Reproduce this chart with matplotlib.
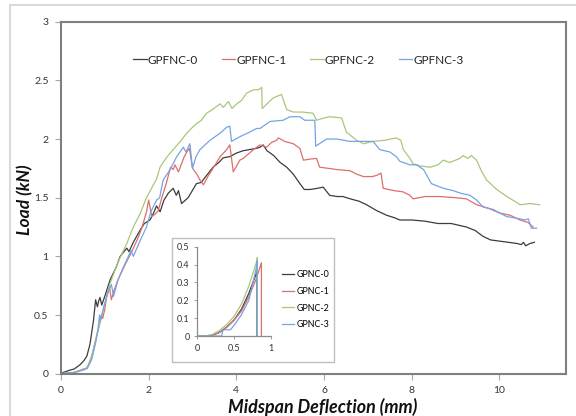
import matplotlib
matplotlib.use("Agg")
import matplotlib.pyplot as plt
from matplotlib.patches import Rectangle

plt.rcParams['font.family'] = ['Lato', 'DejaVu Sans']

# ---------------- data ----------------
labels_main = ["GPFNC-0", "GPFNC-1", "GPFNC-2", "GPFNC-3"]
labels_inset = ["GPNC-0", "GPNC-1", "GPNC-2", "GPNC-3"]
colors = ["#3c3c3c", "#dc6f6b", "#a9c77a", "#74a4e6"]

x0 = [0, 0.05, 0.2, 0.3, 0.43, 0.52, 0.59, 0.66, 0.74, 0.79, 0.83, 0.86, 0.89, 0.93, 1.0, 1.12, 1.25, 1.35, 1.5, 1.55,
      1.65, 1.8, 1.9, 2.03, 2.1, 2.18, 2.26, 2.35, 2.45, 2.56, 2.63, 2.68, 2.75, 2.9, 3.09, 3.2, 3.3, 3.47, 3.6, 3.7,
      3.85, 4.0, 4.15, 4.3, 4.45, 4.54, 4.61, 4.7, 4.85, 5.0, 5.15, 5.3, 5.45, 5.55, 5.68, 5.85, 5.98, 6.13, 6.3, 6.43,
      6.6, 6.8, 6.97, 7.2, 7.43, 7.6, 7.73, 8.0, 8.3, 8.6, 8.9, 9.25, 9.45, 9.63, 9.8, 10.0, 10.2, 10.4, 10.5, 10.55,
      10.6, 10.7, 10.8]
y0 = [0, 0.01, 0.03, 0.04, 0.075, 0.11, 0.15, 0.25, 0.45, 0.63, 0.57, 0.62, 0.65, 0.585, 0.66, 0.80, 0.9, 1.0, 1.07, 1.04,
      1.12, 1.22, 1.28, 1.31, 1.36, 1.43, 1.38, 1.48, 1.54, 1.58, 1.52, 1.56, 1.45, 1.5, 1.62, 1.63, 1.68, 1.76, 1.8, 1.84,
      1.85, 1.88, 1.9, 1.91, 1.92, 1.93, 1.95, 1.9, 1.86, 1.8, 1.76, 1.7, 1.62, 1.57, 1.57, 1.58, 1.59, 1.52, 1.51, 1.51,
      1.49, 1.47, 1.44, 1.39, 1.35, 1.33, 1.31, 1.31, 1.30, 1.28, 1.28, 1.25, 1.22, 1.17, 1.14, 1.13, 1.12, 1.11, 1.10, 1.12,
      1.09, 1.11, 1.12]

x1 = [0, 0.3, 0.51, 0.58, 0.62, 0.7, 0.8, 0.88, 0.92, 0.95, 1.0, 1.05, 1.1, 1.15, 1.2, 1.3, 1.45, 1.6, 1.75, 1.85,
      1.95, 2.0, 2.07, 2.15, 2.22, 2.3, 2.4, 2.5, 2.56, 2.6, 2.68, 2.8, 2.87, 2.93, 3.0, 3.1, 3.17, 3.25, 3.35, 3.45,
      3.63, 3.78, 3.85, 3.93, 4.08, 4.16, 4.39, 4.54, 4.69, 4.8, 4.92, 4.96, 5.1, 5.3, 5.45, 5.53, 5.7, 5.83, 5.9, 6.1,
      6.29, 6.59, 6.75, 6.9, 7.1, 7.2, 7.3, 7.35, 7.6, 7.8, 7.96, 8.03, 8.3, 8.64, 9.0, 9.25, 9.48, 9.75, 10.0, 10.25,
      10.47, 10.65, 10.77]
y1 = [0, 0.01, 0.04, 0.045, 0.07, 0.15, 0.3, 0.42, 0.5, 0.47, 0.55, 0.68, 0.75, 0.63, 0.7, 0.8, 0.92, 1.03, 1.15, 1.25,
      1.38, 1.48, 1.34, 1.36, 1.39, 1.5, 1.62, 1.76, 1.74, 1.78, 1.72, 1.84, 1.89, 1.92, 1.75, 1.7, 1.65, 1.61, 1.68, 1.74,
      1.85, 1.91, 1.95, 1.72, 1.82, 1.835, 1.91, 1.95, 1.93, 1.97, 1.99, 2.01, 1.98, 1.96, 1.92, 1.82, 1.83, 1.835, 1.76, 1.75,
      1.74, 1.73, 1.7, 1.68, 1.68, 1.69, 1.71, 1.58, 1.56, 1.55, 1.52, 1.49, 1.51, 1.51, 1.5, 1.49, 1.44, 1.41, 1.37, 1.35,
      1.31, 1.29, 1.25]

x2 = [0, 0.2, 0.4, 0.55, 0.62, 0.7, 0.81, 0.9, 1.0, 1.12, 1.3, 1.5, 1.65, 1.8, 1.95, 2.18, 2.26, 2.4, 2.56, 2.7,
      2.87, 3.0, 3.09, 3.2, 3.32, 3.45, 3.63, 3.7, 3.82, 3.9, 4.01, 4.12, 4.23, 4.39, 4.5, 4.58, 4.59, 4.7, 4.84, 5.03,
      5.15, 5.3, 5.5, 5.75, 5.83, 6.0, 6.13, 6.4, 6.51, 6.74, 6.9, 7.12, 7.4, 7.65, 7.75, 7.81, 7.96, 8.03, 8.2, 8.42,
      8.6, 8.72, 8.87, 9.1, 9.17, 9.28, 9.36, 9.48, 9.6, 9.71, 9.94, 10.17, 10.35, 10.47, 10.7, 10.92]
y2 = [0, 0.005, 0.02, 0.04, 0.07, 0.15, 0.32, 0.45, 0.6, 0.77, 0.95, 1.11, 1.25, 1.36, 1.5, 1.66, 1.76, 1.84, 1.91, 1.97,
      2.05, 2.1, 2.13, 2.16, 2.22, 2.25, 2.3, 2.27, 2.32, 2.26, 2.3, 2.33, 2.39, 2.42, 2.42, 2.44, 2.26, 2.3, 2.35, 2.38,
      2.25, 2.23, 2.23, 2.22, 2.16, 2.18, 2.19, 2.18, 2.06, 1.99, 1.96, 1.98, 1.99, 2.01, 1.99, 1.91, 1.835, 1.79, 1.77, 1.76,
      1.78, 1.82, 1.8, 1.835, 1.86, 1.835, 1.86, 1.82, 1.72, 1.65, 1.57, 1.51, 1.47, 1.44, 1.45, 1.44]

x3 = [0, 0.3, 0.5, 0.6, 0.7, 0.8, 0.85, 0.88, 0.9, 0.95, 1.0, 1.1, 1.15, 1.2, 1.3, 1.45, 1.6, 1.65, 1.8, 1.95,
      2.05, 2.18, 2.25, 2.33, 2.49, 2.64, 2.79, 2.85, 2.94, 3.0, 3.08, 3.17, 3.4, 3.63, 3.78, 3.85, 3.89, 4.08, 4.31, 4.46,
      4.54, 4.77, 5.07, 5.22, 5.45, 5.56, 5.79, 5.81, 6.06, 6.29, 6.44, 6.59, 6.9, 7.12, 7.27, 7.5, 7.65, 7.73, 7.96, 8.11,
      8.27, 8.45, 8.72, 8.95, 9.1, 9.33, 9.48, 9.63, 9.86, 10.16, 10.47, 10.58, 10.66, 10.73, 10.85]
y3 = [0, 0.01, 0.03, 0.045, 0.12, 0.28, 0.4, 0.5, 0.45, 0.53, 0.6, 0.72, 0.76, 0.66, 0.8, 0.93, 1.05, 1.0, 1.13, 1.25,
      1.38, 1.48, 1.5, 1.65, 1.74, 1.85, 1.93, 1.89, 1.96, 1.75, 1.85, 1.91, 1.99, 2.05, 2.1, 2.11, 1.98, 2.02, 2.06, 2.09,
      2.09, 2.15, 2.16, 2.19, 2.19, 2.16, 2.16, 1.94, 2.0, 2.0, 1.99, 1.98, 1.98, 1.98, 1.91, 1.89, 1.85, 1.81, 1.78, 1.78,
      1.74, 1.62, 1.58, 1.56, 1.54, 1.52, 1.48, 1.42, 1.4, 1.34, 1.32, 1.31, 1.32, 1.24, 1.24]

# inset (GPNC)
ix0 = [0, 0.1, 0.2, 0.3, 0.4, 0.5, 0.6, 0.7, 0.81, 0.81]
iy0 = [0, 0, 0.003, 0.02, 0.05, 0.09, 0.15, 0.24, 0.36, 0]
ix1 = [0, 0.1, 0.2, 0.3, 0.4, 0.5, 0.6, 0.7, 0.8, 0.87, 0.87]
iy1 = [0, 0, 0.005, 0.02, 0.05, 0.09, 0.14, 0.22, 0.32, 0.41, 0]
ix2 = [0, 0.1, 0.2, 0.3, 0.4, 0.5, 0.6, 0.7, 0.8, 0.815, 0.815]
iy2 = [0, 0, 0.008, 0.03, 0.065, 0.11, 0.18, 0.28, 0.41, 0.44, 0]
ix3 = [0, 0.33, 0.35, 0.45, 0.5, 0.6, 0.7, 0.8, 0.81, 0.81]
iy3 = [0, 0, 0.035, 0.035, 0.06, 0.12, 0.2, 0.38, 0.42, 0]

main_x = [x0, x1, x2, x3]
main_y = [y0, y1, y2, y3]
ins_x = [ix0, ix1, ix2, ix3]
ins_y = [iy0, iy1, iy2, iy3]

# ---------------- figure ----------------
W, H = 576, 416
fig = plt.figure(figsize=(W / 100, H / 100), dpi=100)

# outer chart-area border
fig.patches.append(Rectangle((10 / W, -0.05), 1.2, 1 - 5 / H + 0.05, transform=fig.transFigure,
                             fill=False, edgecolor="#d9d9d9", lw=1.5))

spine_col = "#7f7f7f"
ax = fig.add_axes([61 / W, 1 - 373.7 / H, (566 - 61) / W, (373.7 - 21.7) / H])
for xs, ys, c, lab in zip(main_x, main_y, colors, labels_main):
    ax.plot(xs, ys, color=c, lw=0.9, label=lab)
ax.set_xlim(0, 11.52)
ax.set_ylim(0, 3)
ax.set_xticks([0, 2, 4, 6, 8, 10])
ax.set_yticks([0, 0.5, 1, 1.5, 2, 2.5, 3])
ax.set_yticklabels(["0", "0.5", "1", "1.5", "2", "2.5", "3"])
for s in ax.spines.values():
    s.set_color(spine_col)
    s.set_linewidth(1.5)
ax.tick_params(axis="both", direction="out", length=4, width=0.8, color="#a6a6a6",
               labelsize=7.5, labelcolor="#333333", pad=5)

leg = ax.legend(loc="center", bbox_to_anchor=(0.47, 0.891), ncol=4, frameon=False,
                fontsize=8.5, handlelength=1.15, handletextpad=0.1, columnspacing=2.0)
for t in leg.get_texts():
    t.set_color("#222222")

fig.text(323 / W, 1 - 406.7 / H, "Midspan Deflection (mm)", ha="center", va="center",
         fontsize=12.9, fontweight="bold", style="italic", color="#111111")
fig.text(25.5 / W, 1 - 200 / H, "Load (kN)", ha="center", va="center", rotation=90,
         fontsize=12.6, fontweight="bold", style="italic", color="#111111")

# inset frame
fig.patches.append(Rectangle((172 / W, 1 - 361.7 / H), (334.3 - 172) / W, (361.7 - 238.3) / H,
                             transform=fig.transFigure, fill=True, facecolor="white",
                             edgecolor="#bfbfbf", lw=1.0, zorder=5))

axi = fig.add_axes([197.3 / W, 1 - 336 / H, (271 - 197.3) / W, (336 - 246.7) / H], zorder=6)
lines = []
for xs, ys, c, lab in zip(ins_x, ins_y, colors, labels_inset):
    ln, = axi.plot(xs, ys, color=c, lw=0.9, label=lab)
    lines.append(ln)
axi.set_xlim(0, 1)
axi.set_ylim(0, 0.5)
axi.set_xticks([0, 0.5, 1])
axi.set_xticklabels(["0", "0.5", "1"])
axi.set_yticks([0, 0.1, 0.2, 0.3, 0.4, 0.5])
axi.set_yticklabels(["0", "0.1", "0.2", "0.3", "0.4", "0.5"])
axi.spines["top"].set_visible(False)
axi.spines["right"].set_visible(False)
for s in ("left", "bottom"):
    axi.spines[s].set_color("#8c8c8c")
    axi.spines[s].set_linewidth(0.9)
axi.tick_params(axis="both", direction="out", length=2.5, width=0.6, color="#8c8c8c",
                labelsize=6.5, labelcolor="#333333", pad=3)

fig.legend(lines, labels_inset, loc="center left", bbox_to_anchor=(282 / W, 1 - 299.8 / H),
           frameon=False, fontsize=6.4, handlelength=1.4, handletextpad=0.25, labelspacing=0.85,
           borderpad=0, borderaxespad=0)

fig.savefig("out.png", dpi=100)
